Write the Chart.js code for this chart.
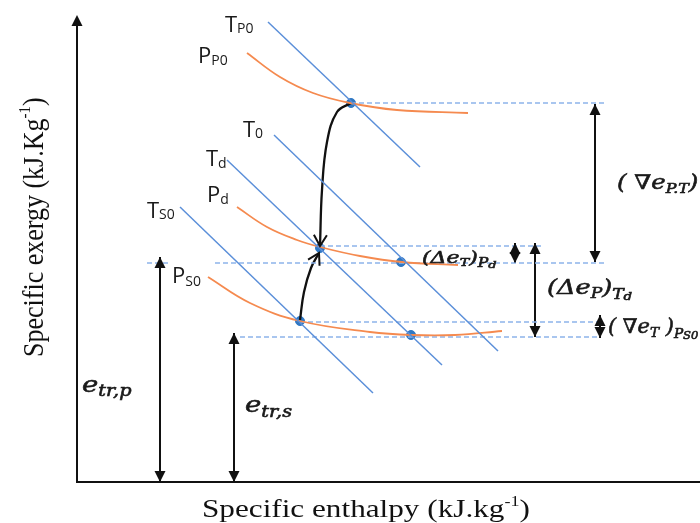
<!DOCTYPE html>
<html>
<head>
<meta charset="utf-8">
<script src="https://cdn.jsdelivr.net/npm/chart.js@4"></script>
<style>
  body { margin: 0; background: #fff; }
  #wrap { width: 700px; height: 523px; }
</style>
</head>
<body>
<div id="wrap"><canvas id="diagram"></canvas></div>
<script>
// schematic units: enthalpy 0..623, exergy 0..482 (arbitrary)
const isothermNames = ['TP0', 'T0', 'Td', 'TS0'];
const isothermH = [[191, 343], [197, 421], [150, 365], [103, 296]];
const isothermE = [[460, 315], [347, 131], [322, 117], [275, 89]];

const isobarP0H = [170, 203, 236, 273, 320, 391];
const isobarP0E = [429, 405, 389, 379, 372, 369];
const isobarPdH = [160, 190, 220, 243, 283, 325, 381];
const isobarPdE = [275, 255, 242, 235, 226, 220, 217];
const isobarS0H = [131, 173, 223, 293, 335, 378, 425];
const isobarS0E = [205, 179, 161, 150, 147, 147, 151];

const stateH = [274, 243, 324, 223, 334];
const stateE = [379, 234, 220, 161, 147];

// dashed exergy levels
const levelE = [379, 236, 219, 219, 160, 145];
const levelFrom = [274, 243, 70, 138, 223, 163];
const levelTo = [527, 464, 91, 527, 520, 520];

// double-headed exergy arrows
const arrowH = [83, 157, 518, 438, 458, 523];
const arrowLo = [0, 0, 220, 219, 145, 144];
const arrowHi = [225, 149, 378, 239, 239, 167];

// process paths
const pathDownH = [274, 260, 250, 245, 243];
const pathDownE = [379, 370, 340, 292, 236];
const pathUpH = [223, 227, 234, 242];
const pathUpE = [162, 190, 214, 229];

const yAxisTop = 467;

const pts = (hs, es) => hs.map((h, i) => ({ x: h, y: es[i] }));

const SANS = '"Open Sans", sans-serif';
const SERIF = '"Liberation Serif", serif';
const m = s => `italic ${s}px "DejaVu Serif", serif`;

const labels = [
  { h: 148, e: 450, sx: 1, runs: [['T', `22px ${SANS}`, 0], ['P0', `14px ${SANS}`, 1]] },
  { h: 121, e: 419, sx: 1, runs: [['P', `22px ${SANS}`, 0], ['P0', `14px ${SANS}`, 2]] },
  { h: 166, e: 345, sx: 1, runs: [['T', `22px ${SANS}`, 0], ['0', `14px ${SANS}`, 1]] },
  { h: 129, e: 316, sx: 1, runs: [['T', `22px ${SANS}`, 0], ['d', `14px ${SANS}`, 2]] },
  { h: 130, e: 280, sx: 1, runs: [['P', `22px ${SANS}`, 0], ['d', `14px ${SANS}`, 2]] },
  { h: 70, e: 264, sx: 1, runs: [['T', `22px ${SANS}`, 0], ['S0', `14px ${SANS}`, 1]] },
  { h: 95, e: 199, sx: 1, runs: [['P', `22px ${SANS}`, 0], ['S0', `14px ${SANS}`, 3]] },
  { h: 345, e: 219, sx: 1.3, bold: true, runs: [['(Δe', m(17), 0], ['T', m(11), 3], [')', m(17), 0], ['P', m(12), 4], ['d', m(10), 5]] },
  { h: 470, e: 188, sx: 1.22, bold: true, runs: [['(Δe', m(21), 0], ['P', m(14), 4], [')', m(21), 0], ['T', m(14), 5], ['d', m(11), 6]] },
  { h: 531, e: 149, sx: 1.05, bold: true, runs: [['( ∇e', m(20), 0], ['T', m(13), 4], [' )', m(20), 0], ['P', m(13), 5], ['S0', m(11), 6]] },
  { h: 540, e: 293, sx: 1.22, bold: true, runs: [['( ∇e', m(20), 0], ['P.T', m(13), 4], [')', m(20), 0]] },
  { h: 5, e: 90, sx: 1.2, bold: true, runs: [['e', m(23), 0], ['tr,p', m(16), 4]] },
  { h: 168, e: 70, sx: 1.2, bold: true, runs: [['e', m(23), 0], ['tr,s', m(16), 5]] }
];

function drawRuns(ctx, x, y, runs, sx, bold) {
  ctx.save();
  ctx.translate(x, y);
  ctx.scale(sx || 1, 1);
  ctx.textBaseline = 'alphabetic';
  ctx.textAlign = 'left';
  ctx.lineWidth = 0.6;
  ctx.strokeStyle = ctx.fillStyle;
  let cx = 0;
  runs.forEach(([t, font, dy]) => {
    ctx.font = font;
    ctx.fillText(t, cx, dy);
    if (bold) ctx.strokeText(t, cx, dy);
    cx += ctx.measureText(t).width;
  });
  ctx.restore();
}

function filledHead(ctx, tx, ty, fx, fy) {
  const a = Math.atan2(ty - fy, tx - fx), len = 11, half = 5.5;
  ctx.beginPath();
  ctx.moveTo(tx, ty);
  ctx.lineTo(tx - len * Math.cos(a) + half * Math.sin(a), ty - len * Math.sin(a) - half * Math.cos(a));
  ctx.lineTo(tx - len * Math.cos(a) - half * Math.sin(a), ty - len * Math.sin(a) + half * Math.cos(a));
  ctx.closePath();
  ctx.fill();
}

function openHead(ctx, tx, ty, fx, fy) {
  const a = Math.atan2(ty - fy, tx - fx), len = 11, half = 6.5;
  ctx.beginPath();
  ctx.moveTo(tx - len * Math.cos(a) + half * Math.sin(a), ty - len * Math.sin(a) - half * Math.cos(a));
  ctx.lineTo(tx, ty);
  ctx.lineTo(tx - len * Math.cos(a) - half * Math.sin(a), ty - len * Math.sin(a) + half * Math.cos(a));
  ctx.stroke();
}

const schematic = {
  id: 'schematic',
  afterDatasetsDraw(chart) {
    const { ctx, chartArea: a, scales: { x, y } } = chart;
    ctx.save();
    ctx.fillStyle = '#111';
    ctx.strokeStyle = '#111';
    ctx.lineWidth = 2;

    // axes
    const top = y.getPixelForValue(yAxisTop);
    ctx.beginPath();
    ctx.moveTo(a.left, top + 8);
    ctx.lineTo(a.left, a.bottom);
    ctx.lineTo(chart.width, a.bottom);
    ctx.stroke();
    filledHead(ctx, a.left, top, a.left, a.bottom);

    // arrow heads
    chart.data.datasets.forEach(ds => {
      if (!ds.heads) return;
      const p = ds.data.map(d => [x.getPixelForValue(d.x), y.getPixelForValue(d.y)]);
      const n = p.length;
      if (ds.heads === 'both') {
        filledHead(ctx, p[0][0], p[0][1], p[1][0], p[1][1]);
        filledHead(ctx, p[n - 1][0], p[n - 1][1], p[n - 2][0], p[n - 2][1]);
      } else {
        openHead(ctx, p[n - 1][0], p[n - 1][1], p[n - 2][0], p[n - 2][1]);
      }
    });

    // labels
    ctx.fillStyle = '#1a1a1a';
    labels.forEach(l => drawRuns(ctx, x.getPixelForValue(l.h), y.getPixelForValue(l.e), l.runs, l.sx, l.bold));

    // axis titles
    ctx.fillStyle = '#111';
    drawRuns(ctx, 202, 517, [['Specific enthalpy (kJ.kg', `26px ${SERIF}`, 0], ['-1', `15px ${SERIF}`, -11], [')', `26px ${SERIF}`, 0]], 1.2);
    ctx.translate(43, 357);
    ctx.rotate(-Math.PI / 2);
    ctx.scale(1, 1.15);
    drawRuns(ctx, 0, 0, [['Specific exergy (kJ.Kg', `26px ${SERIF}`, 0], ['-1', `15px ${SERIF}`, -11], [')', `26px ${SERIF}`, 0]], 1);
    ctx.restore();
  }
};

const datasets = [];
isothermNames.forEach((name, i) => {
  datasets.push({ label: name, data: pts(isothermH[i], isothermE[i]), borderColor: '#5b8fd9', borderWidth: 1.5 });
});
[[isobarP0H, isobarP0E, 'PP0'], [isobarPdH, isobarPdE, 'Pd'], [isobarS0H, isobarS0E, 'PS0']].forEach(([hs, es, name]) => {
  datasets.push({ label: name, data: pts(hs, es), borderColor: '#f58a4f', borderWidth: 1.8, tension: 0.4 });
});
levelE.forEach((e, i) => {
  datasets.push({ label: 'level', data: [{ x: levelFrom[i], y: e }, { x: levelTo[i], y: e }], borderColor: '#8db4ea', borderWidth: 1.5, borderDash: [5, 3] });
});
arrowH.forEach((h, i) => {
  datasets.push({ label: 'arrow', data: [{ x: h, y: arrowHi[i] }, { x: h, y: arrowLo[i] }], borderColor: '#111', borderWidth: 2, heads: 'both' });
});
datasets.push({ label: 'down', data: pts(pathDownH, pathDownE), borderColor: '#111', borderWidth: 2.3, tension: 0.4, heads: 'open' });
datasets.push({ label: 'up', data: pts(pathUpH, pathUpE), borderColor: '#111', borderWidth: 2.3, tension: 0.4, heads: 'open' });
datasets.push({ label: 'states', data: pts(stateH, stateE), showLine: false, pointRadius: 4.5, backgroundColor: '#2f78c4', borderColor: '#2f78c4' });

datasets.forEach(ds => {
  if (ds.showLine === undefined) { ds.showLine = true; ds.pointRadius = 0; }
  ds.clip = false;
});

new Chart(document.getElementById('diagram'), {
  type: 'scatter',
  data: { datasets },
  options: {
    responsive: true,
    maintainAspectRatio: false,
    animation: false,
    layout: { autoPadding: false, padding: { left: 77, right: 0, top: 0, bottom: 41 } },
    scales: {
      x: { type: 'linear', min: 0, max: 623, display: false },
      y: { type: 'linear', min: 0, max: 482, display: false }
    },
    plugins: { legend: { display: false }, tooltip: { enabled: false } },
    events: []
  },
  plugins: [schematic]
});
</script>
</body>
</html>
